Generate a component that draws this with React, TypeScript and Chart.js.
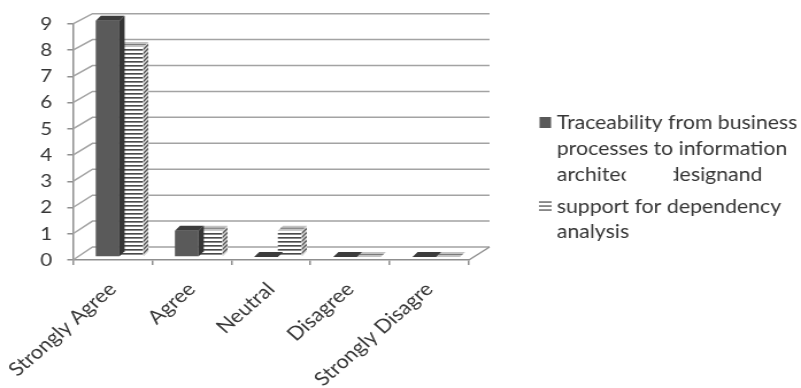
import { useEffect, useRef } from "react";
import { Chart, registerables } from "chart.js";

Chart.register(...registerables);

// Survey answers per response category
const categories = ["Strongly Agree", "Agree", "Neutral", "Disagree", "Strongly Disagre"];
const traceabilityValues = [9, 1, 0, 0, 0];
const dependencyValues = [8, 1, 1, 0, 0];
const yMax = 9;

const seriesNames = [
  "Traceability from business processes to information architecture designand",
  "support for dependency analysis",
];
const legendLines = [
  ["Traceability from business", "processes to information", "architecture designand"],
  ["support for dependency", "analysis"],
];

// the drawing is made on a narrower canvas and shown widened
const CANVAS_W = 697;
const CANVAS_H = 388;
const SHOWN_W = 801;

const FONT = "Lato, 'DejaVu Sans', sans-serif";
const TEXT = "#363636";
const AXIS = "#8f8f8f";
const GRID = "#a3a3a3";

// pseudo-3D geometry
const BAR_SHIFT_X = 6;
const BAR_SHIFT_Y = -3;
const DEPTH_X = 4.5;
const DEPTH_Y = -5;
const WALL_X = 18;
const WALL_Y = -13;

function makeStripes(): CanvasPattern | string {
  const c = document.createElement("canvas");
  c.width = 8;
  c.height = 4;
  const g = c.getContext("2d");
  if (!g) return "#ffffff";
  g.fillStyle = "#ffffff";
  g.fillRect(0, 0, 8, 4);
  g.fillStyle = "#4a4a4a";
  g.fillRect(0, 0, 8, 1);
  g.fillStyle = "#8a8a8a";
  g.fillRect(0, 1, 8, 1);
  const p = g.createPattern(c, "repeat");
  return p || "#ffffff";
}

export default function App() {
  const ref = useRef<HTMLCanvasElement | null>(null);

  useEffect(() => {
    if (!ref.current) return;
    const stripes = makeStripes();

    const backY = (chart: any, v: number) => {
      const ys = chart.scales.y;
      const y0 = ys.getPixelForValue(0);
      const yv = ys.getPixelForValue(v);
      return y0 + WALL_Y - (y0 - yv) * 0.988;
    };

    const wallPlugin = {
      id: "walls3d",
      beforeDatasetsDraw(chart: any) {
        const { ctx, chartArea } = chart;
        const ys = chart.scales.y;
        const left = chartArea.left;
        const right = chartArea.right;
        const y0 = ys.getPixelForValue(0);
        ctx.save();
        ctx.strokeStyle = GRID;
        ctx.lineWidth = 1.5;
        ys.ticks.forEach((t: any) => {
          const v = t.value;
          const fy = ys.getPixelForValue(v);
          const by = backY(chart, v);
          ctx.beginPath();
          ctx.moveTo(left, fy);
          ctx.lineTo(left + WALL_X - 1, by);
          ctx.lineTo(right + WALL_X, by);
          ctx.stroke();
        });
        // right edge of the floor
        ctx.strokeStyle = AXIS;
        ctx.beginPath();
        ctx.moveTo(right, y0);
        ctx.lineTo(right + WALL_X, backY(chart, 0));
        ctx.stroke();
        ctx.restore();
        ctx.save();
        ctx.translate(BAR_SHIFT_X, BAR_SHIFT_Y);
      },
      afterDatasetDraw(chart: any, args: any) {
        const { ctx } = chart;
        const meta = chart.getDatasetMeta(args.index);
        const striped = args.index === 1;
        meta.data.forEach((bar: any) => {
          const { x, y, base, width } = bar.getProps(["x", "y", "base", "width"], true);
          const l = x - width / 2;
          const r = x + width / 2;
          // side face
          if (base - y > 0.5) {
            ctx.save();
            ctx.beginPath();
            ctx.moveTo(r, y);
            ctx.lineTo(r + DEPTH_X, y + DEPTH_Y);
            ctx.lineTo(r + DEPTH_X, base + DEPTH_Y);
            ctx.lineTo(r, base);
            ctx.closePath();
            ctx.fillStyle = striped ? "#d9d9d9" : "#353535";
            ctx.fill();
            if (striped) {
              ctx.clip();
              ctx.strokeStyle = "#555555";
              ctx.lineWidth = 1.2;
              for (let sy = Math.floor(y / 4) * 4; sy <= base + 6; sy += 4) {
                ctx.beginPath();
                ctx.moveTo(r, sy + 0.5);
                ctx.lineTo(r + DEPTH_X, sy + 0.5 + DEPTH_Y);
                ctx.stroke();
              }
            }
            ctx.restore();
          }
          // top face
          ctx.save();
          ctx.beginPath();
          ctx.moveTo(l, y);
          ctx.lineTo(l + DEPTH_X, y + DEPTH_Y);
          ctx.lineTo(r + DEPTH_X, y + DEPTH_Y);
          ctx.lineTo(r, y);
          ctx.closePath();
          ctx.fillStyle = striped ? "#c2c2c2" : "#3c3c3c";
          ctx.fill();
          if (striped) {
            ctx.strokeStyle = "#7a7a7a";
            ctx.lineWidth = 1;
            ctx.beginPath();
            ctx.moveTo(l + DEPTH_X * 0.5, y + DEPTH_Y * 0.5);
            ctx.lineTo(r + DEPTH_X * 0.5, y + DEPTH_Y * 0.5);
            ctx.stroke();
          }
          ctx.restore();
        });
      },
      afterDatasetsDraw(chart: any) {
        chart.ctx.restore();
      },
    };

    const legendPlugin = {
      id: "sideLegend",
      afterDraw(chart: any) {
        const { ctx } = chart;
        const x = 484.5;
        ctx.save();
        ctx.font = `18.5px ${FONT}`;
        ctx.textBaseline = "middle";
        ctx.textAlign = "left";
        // first entry
        ctx.fillStyle = "#595959";
        ctx.fillRect(469.5, 117, 10, 11);
        ctx.fillStyle = TEXT;
        const l1 = legendLines[0];
        ctx.fillText(l1[0], x, 123);
        ctx.fillText(l1[1], x, 149);
        // third line is partly hidden in the middle
        const words = l1[2].split(" ");
        ctx.save();
        ctx.beginPath();
        ctx.rect(x, 160, 544.5 - x, 30);
        ctx.clip();
        ctx.fillText(words[0], x, 175);
        ctx.restore();
        ctx.save();
        ctx.beginPath();
        ctx.rect(586, 160, 110, 30);
        ctx.clip();
        ctx.fillText(words[1], 581, 175);
        ctx.restore();
        // second entry: three short strokes
        ctx.fillStyle = "#555555";
        [202, 206, 210].forEach((ly) => ctx.fillRect(469, ly - 0.6, 11, 1.3));
        ctx.fillStyle = TEXT;
        const l2 = legendLines[1];
        ctx.fillText(l2[0], x, 207);
        ctx.fillText(l2[1], x, 232);
        ctx.restore();
      },
    };

    const chart = new Chart(ref.current, {
      type: "bar",
      data: {
        labels: categories,
        datasets: [
          {
            label: seriesNames[0],
            data: traceabilityValues,
            backgroundColor: "#5a5a5a",
            borderWidth: 0,
            clip: false as any,
          },
          {
            label: seriesNames[1],
            data: dependencyValues,
            backgroundColor: stripes as any,
            borderWidth: 0,
            clip: false as any,
          },
        ],
      },
      options: {
        responsive: false,
        animation: false,
        events: [],
        layout: { padding: { left: 0, top: 23, right: 289, bottom: 0 } },
        datasets: {
          bar: { categoryPercentage: 0.6, barPercentage: 1 },
        },
        plugins: {
          legend: { display: false },
          tooltip: { enabled: false },
          title: { display: false },
        },
        scales: {
          x: {
            grid: {
              drawOnChartArea: false,
              drawTicks: true,
              tickLength: 5,
              color: AXIS,
              lineWidth: 1.5,
            },
            border: { display: true, color: AXIS, width: 1.5 },
            ticks: {
              autoSkip: false,
              minRotation: 45,
              maxRotation: 45,
              padding: 13,
              color: TEXT,
              font: { family: FONT, size: 19 },
            },
            afterFit(scale: any) {
              scale.height = 128;
              // the slanted labels may hang past the plot edge
              scale.paddingLeft = 0;
              scale.paddingRight = 0;
            },
          },
          y: {
            min: 0,
            max: yMax,
            grid: {
              drawOnChartArea: false,
              drawTicks: true,
              tickLength: 5,
              color: AXIS,
              lineWidth: 1.5,
            },
            border: { display: true, color: AXIS, width: 1.5 },
            ticks: {
              stepSize: 1,
              padding: 13,
              color: TEXT,
              font: { family: FONT, size: 18 },
            },
            afterFit(scale: any) {
              scale.width = 63.5;
            },
          },
        },
      },
      plugins: [wallPlugin, legendPlugin],
    });

    return () => chart.destroy();
  }, []);

  return (
    <div style={{ position: "absolute", left: 0, top: 0, width: SHOWN_W, height: CANVAS_H, background: "#ffffff" }}>
      <canvas
        ref={ref}
        width={CANVAS_W}
        height={CANVAS_H}
        style={{ display: "block", width: SHOWN_W + "px", height: CANVAS_H + "px" }}
      />
    </div>
  );
}
